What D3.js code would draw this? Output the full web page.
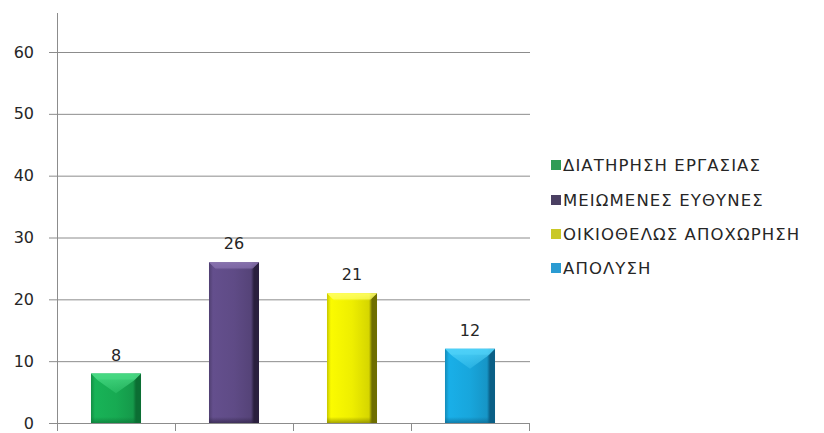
<!DOCTYPE html>
<html>
<head>
<meta charset="utf-8">
<script src="https://cdn.jsdelivr.net/npm/d3@7"></script>
<style>
  html, body { margin: 0; padding: 0; background: #ffffff; }
  svg { display: block; }
  text { font-family: "DejaVu Sans", "Noto Sans", sans-serif; fill: #262626; }
</style>
</head>
<body>
<svg id="chart" width="824" height="433"></svg>
<script>
// Reasons for leaving / outcome categories and counts
const categories = ["ΔΙΑΤΗΡΗΣΗ ΕΡΓΑΣΙΑΣ", "ΜΕΙΩΜΕΝΕΣ ΕΥΘΥΝΕΣ", "ΟΙΚΙΟΘΕΛΩΣ ΑΠΟΧΩΡΗΣΗ", "ΑΠΟΛΥΣΗ"];
const values = [8, 26, 21, 12];
const yTicks = [0, 10, 20, 30, 40, 50, 60];

// Bar shading: base, light top face, dark side, legend swatch
const palette = [
  { base: "#17aa52", light: "#4bdc86", dark: "#0b6e33", swatch: "#2f9c55" },
  { base: "#5f4b86", light: "#8a74b0", dark: "#2a1f3e", swatch: "#4a3f62" },
  { base: "#eeee00", light: "#ffff66", dark: "#6e6e00", swatch: "#c9c826" },
  { base: "#18a6dc", light: "#52d4fa", dark: "#0a5f86", swatch: "#2a9bd2" }
];

const svg = d3.select("#chart");
const plot = { left: 57, right: 529, top: 13, bottom: 423 };

const x = d3.scaleBand()
  .domain(categories)
  .range([plot.left, plot.right])
  .paddingInner(0.576)
  .paddingOuter(0.288);

const y = d3.scaleLinear().domain([0, 60]).range([plot.bottom, 52]);

const gridColor = "#8c8c8c";

// Horizontal gridlines with outward tick marks
const yAxis = d3.axisLeft(y).tickValues(yTicks).tickSize(8).tickPadding(15).tickFormat(d3.format("d"));
const gy = svg.append("g").attr("transform", `translate(${plot.left},0)`).call(yAxis);
gy.select(".domain").remove();
gy.selectAll(".tick line").attr("stroke", gridColor);
gy.selectAll(".tick text")
  .style("font-size", "16px")
  .style("font-family", "'DejaVu Sans', sans-serif")
  .attr("fill", "#262626");
gy.selectAll(".tick").append("line")
  .attr("x1", 0).attr("x2", plot.right + 1 - plot.left)
  .attr("stroke", gridColor).attr("stroke-width", 1);

// Vertical axis line
svg.append("line")
  .attr("x1", plot.left + 0.5).attr("x2", plot.left + 0.5)
  .attr("y1", plot.top).attr("y2", plot.bottom + 8)
  .attr("stroke", gridColor);

// Category separator ticks below the baseline
const step = x.step();
const sepX = categories.map((c, i) => x(c) - x.paddingInner() * step / 2 + step);
svg.selectAll("line.sep").data(sepX).join("line")
  .attr("class", "sep")
  .attr("x1", d => Math.round(d) + 0.5).attr("x2", d => Math.round(d) + 0.5)
  .attr("y1", plot.bottom).attr("y2", plot.bottom + 8)
  .attr("stroke", gridColor);

// Gradients for bevelled bars
const defs = svg.append("defs");
palette.forEach((p, i) => {
  const g = defs.append("linearGradient").attr("id", "body" + i)
    .attr("x1", 0).attr("x2", 1).attr("y1", 0).attr("y2", 0);
  g.append("stop").attr("offset", 0).attr("stop-color", d3.color(p.base).darker(0.5));
  g.append("stop").attr("offset", 0.08).attr("stop-color", d3.color(p.base).brighter(0.15));
  g.append("stop").attr("offset", 0.5).attr("stop-color", p.base);
  g.append("stop").attr("offset", 0.84).attr("stop-color", d3.color(p.base).darker(0.3));
  g.append("stop").attr("offset", 0.9).attr("stop-color", p.dark);
  g.append("stop").attr("offset", 1).attr("stop-color", p.dark);

  const t = defs.append("linearGradient").attr("id", "top" + i)
    .attr("x1", 0).attr("x2", 0).attr("y1", 0).attr("y2", 1);
  t.append("stop").attr("offset", 0).attr("stop-color", p.light).attr("stop-opacity", 1);
  t.append("stop").attr("offset", 1).attr("stop-color", p.light).attr("stop-opacity", 0.3);

  const b = defs.append("linearGradient").attr("id", "bot" + i)
    .attr("x1", 0).attr("x2", 0).attr("y1", 0).attr("y2", 1);
  b.append("stop").attr("offset", 0).attr("stop-color", p.dark).attr("stop-opacity", 0);
  b.append("stop").attr("offset", 1).attr("stop-color", p.dark).attr("stop-opacity", 0.6);
});

const bars = svg.selectAll("g.bar").data(values).join("g").attr("class", "bar");

bars.each(function (v, i) {
  const g = d3.select(this);
  const x0 = x(categories[i]);
  const w = x.bandwidth();
  const x1 = x0 + w;
  const top = y(v);
  const bot = y(0);
  const h = bot - top;
  const band = 7;

  g.append("rect")
    .attr("x", x0).attr("y", top).attr("width", w).attr("height", h)
    .attr("fill", `url(#body${i})`);

  // light top face: a flat band on tall bars, a V on short ones
  const depth = h < 100 ? Math.min(20, h * 0.4) : band;
  g.append("path")
    .attr("d", `M${x0},${top} L${x1},${top} L${x1 - band},${top + band} L${x0 + w / 2},${top + depth} L${x0 + band},${top + band} Z`)
    .attr("fill", `url(#top${i})`).attr("opacity", 0.85);
  g.append("path")
    .attr("d", `M${x0},${top} L${x1},${top} L${x1 - band + 1},${top + band - 1} L${x0 + band - 1},${top + band - 1} Z`)
    .attr("fill", palette[i].light).attr("opacity", 0.55);

  // darker bottom edge
  g.append("rect")
    .attr("x", x0).attr("y", bot - 6).attr("width", w).attr("height", 6)
    .attr("fill", `url(#bot${i})`);

  // value label
  g.append("text")
    .attr("x", x0 + w / 2).attr("y", top - 13)
    .attr("text-anchor", "middle")
    .style("font-size", "16px")
    .text(v);
});

// Legend
const legend = svg.append("g").attr("transform", "translate(551,0)");
const rowY = [165, 200, 234, 268];
categories.forEach((c, i) => {
  const row = legend.append("g").attr("transform", `translate(0,${rowY[i]})`);
  row.append("rect").attr("x", 0).attr("y", -5).attr("width", 10).attr("height", 10)
    .attr("fill", palette[i].swatch);
  row.append("text").attr("x", 12).attr("y", 0).attr("dy", "0.36em")
    .style("font-size", "16.5px")
    .style("letter-spacing", "1.1px")
    .attr("fill", "#333333")
    .text(c);
});
</script>
</body>
</html>
